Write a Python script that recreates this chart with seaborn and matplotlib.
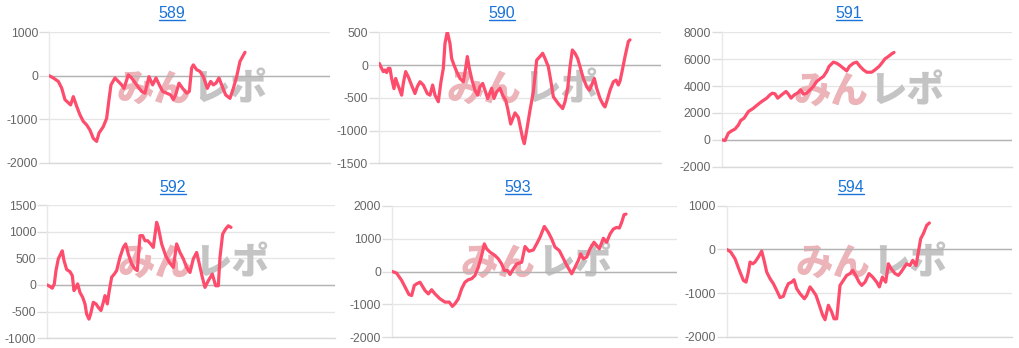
import matplotlib
matplotlib.use("Agg")
import matplotlib.pyplot as plt
from matplotlib.lines import Line2D
import seaborn as sns
import pandas as pd

# ---------------- data ----------------
titles = ["589", "590", "591", "592", "593", "594"]

x589 = [0, 12, 27, 37, 47, 57, 64, 72, 82, 92, 102, 112, 122, 132, 142, 149, 162, 172, 179, 185,
        197, 207, 217, 224, 237, 247, 262, 277, 287, 299, 310, 320, 330, 340, 352, 364, 372, 379, 389, 400,
        412, 420, 427, 432, 442, 452, 462, 474, 484, 492, 500, 509, 519, 529, 542, 552, 562, 572, 587]
y589 = [0, -50, -130, -280, -550, -620, -670, -480, -700, -900, -1050, -1130, -1250, -1440, -1510, -1320, -1170, -980, -550, -210,
        -50, -130, -210, -290, 20, -50, -210, -360, -400, -20, -210, -50, -210, -360, -400, -440, -550, -440, -170, -290,
        -400, -360, 180, 250, 140, 100, -20, -290, -130, -210, -170, -50, -250, -440, -520, -290, -20, 330, 540]

x590 = [0, 7, 12, 17, 22, 27, 32, 37, 44, 49, 54, 60, 67, 72, 79, 87, 97, 107, 114, 122,
        132, 144, 152, 160, 167, 177, 185, 192, 197, 204, 212, 217, 224, 232, 242, 252, 259, 264, 270, 278,
        287, 295, 302, 310, 317, 325, 337, 344, 352, 362, 370, 379, 385, 394, 407, 417, 430, 435, 442, 452,
        462, 472, 482, 490, 497, 507, 514, 522, 537, 550, 557, 565, 572, 579, 587, 595, 602, 612, 622, 630,
        637, 645, 652, 662, 672, 677, 685, 692, 702, 710, 717, 722, 729, 737, 747, 752]
y590 = [25, -50, -100, -75, -115, -50, -50, -205, -360, -205, -280, -360, -460, -280, -100, -180, -310, -435, -330, -255,
        -305, -435, -460, -305, -460, -560, -255, -50, 330, 510, 330, 100, 0, -100, -205, -255, -50, 130, -50, -230,
        -385, -460, -330, -280, -385, -510, -355, -510, -410, -355, -460, -535, -665, -900, -730, -800, -1120, -1200, -1000, -690,
        -410, 75, 130, 180, 100, -25, -230, -485, -590, -665, -560, -355, -25, 230, 180, 100, -25, -205, -330, -385,
        -305, -205, -355, -510, -610, -640, -510, -385, -255, -230, -305, -245, -75, 130, 360, 385]

x591 = [0, 10, 20, 30, 40, 50, 57, 67, 80, 95, 107, 120, 135, 145, 152, 160, 168, 180, 193, 200,
        208, 218, 230, 237, 245, 255, 265, 275, 285, 295, 305, 315, 322, 335, 345, 355, 365, 375, 383, 395,
        405, 415, 425, 435, 450, 460, 472, 480, 490, 500, 510, 517]
y591 = [0, -50, 500, 670, 800, 1100, 1440, 1610, 2100, 2350, 2600, 2850, 3100, 3350, 3470, 3420, 3100, 3350, 3600, 3400,
        3100, 3350, 3520, 3720, 3400, 3470, 3720, 3970, 4340, 4540, 4710, 5080, 5460, 5780, 5700, 5530, 5330, 5130, 5460, 5700,
        5780, 5460, 5210, 5030, 5030, 5210, 5460, 5700, 6030, 6200, 6400, 6500]

x592 = [0, 8, 15, 21, 26, 33, 40, 45, 50, 58, 68, 75, 80, 86, 91, 98, 106, 113, 118, 125,
        130, 138, 146, 153, 161, 168, 173, 180, 185, 193, 201, 208, 218, 228, 235, 243, 253, 263, 270, 278,
        286, 293, 301, 310, 318, 328, 333, 343, 355, 366, 378, 388, 398, 408, 418, 428, 438, 448, 456, 465,
        473, 483, 495, 505, 513, 518, 526, 535, 543, 551]
y592 = [0, -30, -60, 20, 270, 490, 580, 640, 460, 290, 250, 175, -105, -45, 20, -140, -230, -355, -545, -640,
        -545, -325, -355, -420, -480, -325, -200, -355, -140, 145, 205, 270, 520, 705, 770, 580, 395, 300, 270, 925,
        925, 830, 830, 770, 705, 1175, 1080, 770, 550, 425, 330, 770, 610, 490, 330, 235, 490, 610, 395, 145,
        -45, 80, 205, -15, -15, 520, 955, 1050, 1110, 1080]

x593 = [0, 13, 28, 41, 50, 58, 66, 73, 83, 98, 108, 118, 128, 143, 158, 171, 180, 188, 198, 208,
        218, 228, 238, 248, 258, 268, 276, 283, 293, 308, 318, 328, 336, 346, 353, 363, 373, 388, 398, 410,
        423, 433, 443, 456, 468, 478, 488, 501, 511, 521, 531, 538, 548, 558, 565, 573, 583, 593, 605, 613,
        621, 633, 643, 653, 663, 673, 681, 688, 695, 701]
y593 = [0, -50, -270, -525, -700, -730, -425, -375, -325, -575, -680, -555, -680, -830, -930, -930, -1060, -980, -830, -525,
        -325, -250, -220, -120, 130, 485, 840, 690, 590, 485, 385, 230, 30, 30, -90, 80, 230, 280, 760, 615,
        655, 840, 1040, 1370, 1190, 990, 740, 635, 435, 230, 50, -70, 130, 335, 535, 385, 435, 690, 890, 790,
        690, 1010, 890, 1140, 1290, 1340, 1320, 1495, 1725, 1745]

x594 = [0, 12, 25, 38, 50, 58, 65, 70, 78, 85, 95, 105, 112, 120, 130, 140, 150, 160, 170, 178,
        185, 195, 202, 210, 220, 233, 240, 250, 258, 268, 278, 288, 295, 305, 315, 322, 330, 340, 350, 360,
        370, 378, 387, 397, 405, 415, 427, 438, 450, 458, 467, 477, 485, 493, 505, 515, 523, 530, 540, 550,
        558, 568, 575, 582, 590, 600, 608]
y594 = [0, -60, -215, -480, -710, -750, -520, -290, -330, -290, -175, -40, -250, -520, -670, -785, -940, -1105, -1075, -900,
        -785, -750, -695, -900, -1015, -1130, -1055, -860, -940, -1055, -1280, -1510, -1610, -1280, -1435, -1590, -1590, -825, -710, -595,
        -555, -480, -595, -750, -825, -750, -555, -635, -750, -860, -635, -750, -330, -440, -555, -595, -520, -440, -330, -370,
        -250, -370, -60, 245, 360, 550, 605]

xs = [x589, x590, x591, x592, x593, x594]
ys = [y589, y590, y591, y592, y593, y594]
x_max = [842, 844, 870, 863, 853, 855]
y_ticks = [
    [-2000, -1000, 0, 1000],
    [-1500, -1000, -500, 0, 500],
    [-2000, 0, 2000, 4000, 6000, 8000],
    [-1000, -500, 0, 500, 1000, 1500],
    [-2000, -1000, 0, 1000, 2000],
    [-2000, -1000, 0, 1000],
]
watermark_a = "みん"
watermark_b = "レポ"

# ---------------- styling / layout ----------------
sns.set_theme(style="white")
plt.rcParams["font.family"] = ["Liberation Sans", "Noto Sans CJK JP", "DejaVu Sans"]

W, H = 1019, 348
fig = plt.figure(figsize=(W / 100, H / 100), dpi=100)
fig.patch.set_facecolor("white")

# axes boxes in pixels: left, right, top, bottom
boxes = [
    (49.3, 330.0, 32.3, 162.7),
    (379.3, 660.7, 32.3, 163.3),
    (721.7, 1011.7, 32.3, 166.7),
    (47.3, 335.0, 205.0, 338.3),
    (392.3, 676.7, 205.7, 337.3),
    (726.7, 1011.7, 205.7, 336.7),
]
title_pos = [(172, 13.5), (502, 13.5), (849, 13.5), (173, 187.5), (518, 187.5), (851, 187.5)]

LINE_COLOR = "#fd4c6c"
TITLE_COLOR = "#1a73d9"
GRID_COLOR = "#e6e6e6"

title_texts = []
for i in range(6):
    l, r, t, b = boxes[i]
    ax = fig.add_axes([l / W, 1 - b / H, (r - l) / W, (b - t) / H])
    ax.set_facecolor("white")
    df = pd.DataFrame({"x": xs[i], "y": ys[i]})
    sns.lineplot(data=df, x="x", y="y", ax=ax, color=LINE_COLOR, linewidth=2.3,
                 zorder=5, estimator=None, sort=False)
    ax.set_xlim(0, x_max[i])
    ax.set_ylim(y_ticks[i][0], y_ticks[i][-1])
    ax.set_yticks(y_ticks[i])
    ax.set_yticklabels([str(v) for v in y_ticks[i]])
    ax.set_xticks([])
    ax.set_xlabel("")
    ax.set_ylabel("")
    ax.yaxis.grid(True, color=GRID_COLOR, linewidth=1.0, zorder=0)
    ax.set_axisbelow(True)
    ax.axhline(0, color="#b3b3b3", linewidth=1.0, zorder=2)
    for s in ["top", "right"]:
        ax.spines[s].set_visible(False)
    ax.spines["left"].set_color("#e8e8e8")
    ax.spines["left"].set_linewidth(1.0)
    ax.spines["bottom"].set_color("#d9d9d9")
    ax.spines["bottom"].set_linewidth(1.0)
    ax.tick_params(axis="y", length=7, width=1, color="#dcdcdc", labelsize=8.7,
                   labelcolor="#666666", pad=1, left=True)
    # watermark
    ax.text(0.505, 0.56, watermark_a, transform=ax.transAxes, ha="right", va="center",
            fontsize=27, fontweight="heavy", color="#ecb3b8", family=["Noto Sans CJK JP"],
            zorder=1)
    ax.text(0.51, 0.56, watermark_b, transform=ax.transAxes, ha="left", va="center",
            fontsize=27, fontweight="heavy", color="#c4c4c4", family=["Noto Sans CJK JP"],
            zorder=1)
    tx, ty = title_pos[i]
    tt = fig.text(tx / W, 1 - ty / H, titles[i], ha="center", va="center",
                  fontsize=11.5, color=TITLE_COLOR)
    title_texts.append(tt)

# underline titles (they are links in the original)
fig.canvas.draw()
renderer = fig.canvas.get_renderer()
for tt in title_texts:
    bb = tt.get_window_extent(renderer=renderer)
    y = (bb.y0 + 1.0) / H
    fig.add_artist(Line2D([bb.x0 / W, bb.x1 / W], [y, y], color=TITLE_COLOR,
                          linewidth=1.0, transform=fig.transFigure))

fig.savefig("out.png", dpi=100, facecolor="white")
